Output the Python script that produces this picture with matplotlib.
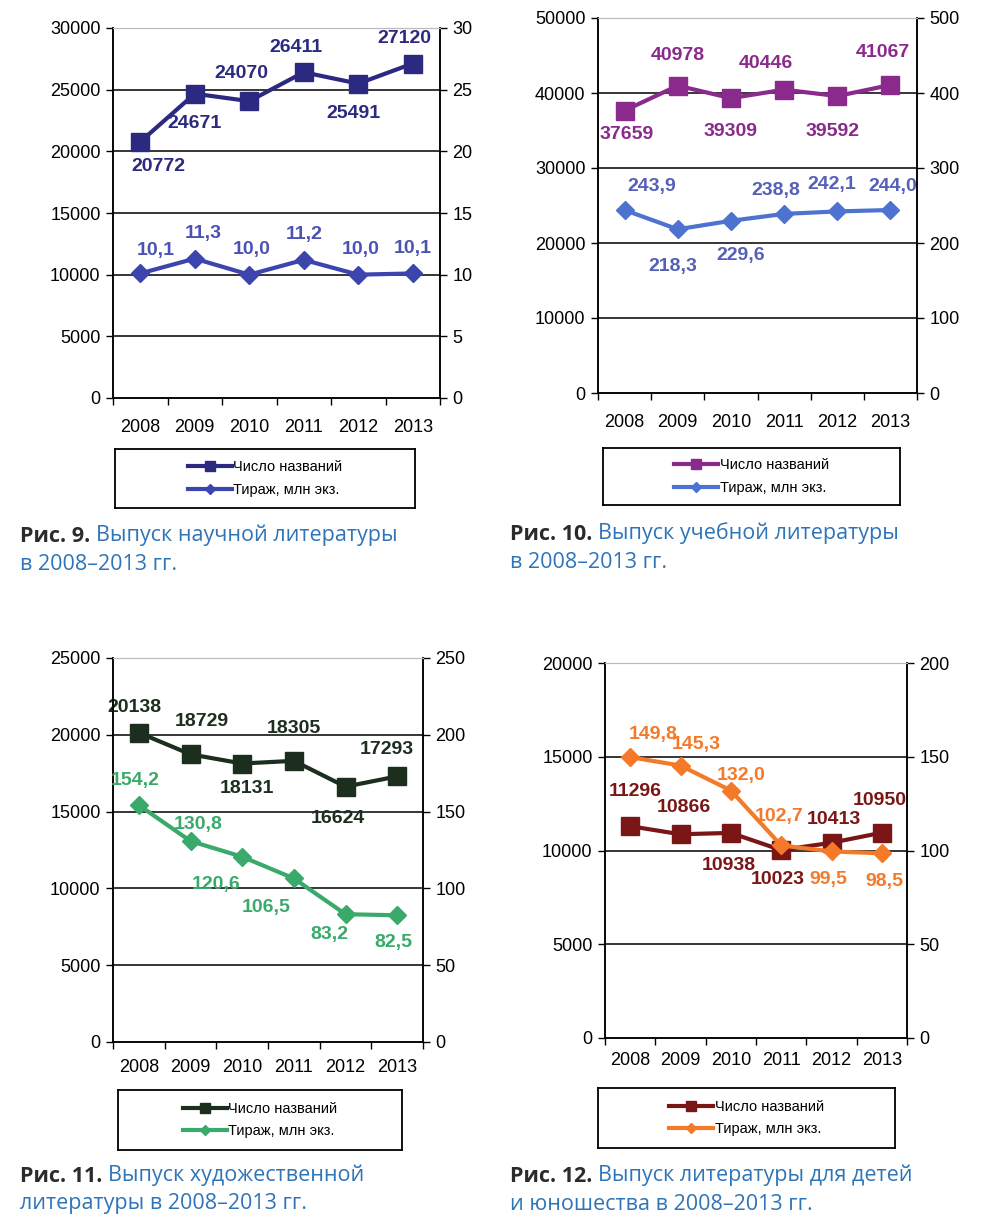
import numpy as np
import matplotlib
matplotlib.use("Agg")
import matplotlib.pyplot as plt

plt.rcParams['font.family'] = ['Liberation Sans', 'DejaVu Sans']

# --- data -------------------------------------------------------------
years = ['2008', '2009', '2010', '2011', '2012', '2013']

sci_titles = [20772, 24671, 24070, 26411, 25491, 27120]
sci_copies = [10.1, 11.3, 10.0, 11.2, 10.0, 10.1]

edu_titles = [37659, 40978, 39309, 40446, 39592, 41067]
edu_copies = [243.9, 218.3, 229.6, 238.8, 242.1, 244.0]

fic_titles = [20138, 18729, 18131, 18305, 16624, 17293]
fic_copies = [154.2, 130.8, 120.6, 106.5, 83.2, 82.5]

kid_titles = [11296, 10866, 10938, 10023, 10413, 10950]
kid_copies = [149.8, 145.3, 132.0, 102.7, 99.5, 98.5]

legend_titles = 'Число названий'
legend_copies = 'Тираж, млн экз.'

captions = [
    ('Рис. 9. ', 'Выпуск научной литературы', 'в 2008–2013 гг.'),
    ('Рис. 10. ', 'Выпуск учебной литературы', 'в 2008–2013 гг.'),
    ('Рис. 11. ', 'Выпуск художественной', 'литературы в 2008–2013 гг.'),
    ('Рис. 12. ', 'Выпуск литературы для детей', 'и юношества в 2008–2013 гг.'),
]

# --- layout / style (pixels on a 1000x1220 canvas) ----------------------
W, H = 1000, 1220
panels = [
    dict(titles=sci_titles, copies=sci_copies, ymax=30000, ystep=5000, rmax=30, rstep=5,
         c1='#2c2a80', c2='#3b45ad', l2='#4a52b4', xpad=15,
         box=(113, 440, 28, 398), leg=(115, 415, 449, 508), cap=(20, 536),
         off1=[(18, -25), (0, -30), (-8, 28), (-8, 25), (-5, -30), (-8, 25)],
         off2=[(16, 23), (9, 25), (2, 25), (0, 25), (2, 25), (0, 25)]),
    dict(titles=edu_titles, copies=edu_copies, ymax=50000, ystep=10000, rmax=500, rstep=100,
         c1='#8a2a8c', c2='#4d72cf', l2='#5660b8', xpad=15,
         box=(598, 917, 18, 393), leg=(603, 900, 448, 505), cap=(510, 534),
         off1=[(2, -24), (0, 30), (0, -33), (-18, 26), (-5, -35), (-8, 32)],
         off2=[(27, 24), (-5, -37), (10, -35), (-8, 23), (-6, 27), (2, 24)]),
    dict(titles=fic_titles, copies=fic_copies, ymax=25000, ystep=5000, rmax=250, rstep=50,
         c1='#1c2e1e', c2='#3aaa6b', l2='#3aaa6b', xpad=12,
         box=(113, 423, 658, 1042), leg=(118, 402, 1090, 1150), cap=(20, 1176),
         off1=[(-4, 25), (11, 33), (5, -25), (0, 32), (-8, -32), (-10, 27)],
         off2=[(-4, 25), (8, 17), (-26, -28), (-28, -29), (-16, -20), (-4, -27)]),
    dict(titles=kid_titles, copies=kid_copies, ymax=20000, ystep=5000, rmax=200, rstep=50,
         c1='#7a1616', c2='#f47a2a', l2='#f47a2a', xpad=10,
         box=(605, 907, 663, 1038), leg=(598, 895, 1088, 1148), cap=(510, 1176),
         off1=[(5, 35), (3, 27), (-2, -33), (-3, -29), (2, 23), (-2, 32)],
         off2=[(23, 23), (16, 21), (10, 15), (-2, 29), (-3, -28), (3, -28)]),
]

fig = plt.figure(figsize=(W / 100, H / 100), dpi=100)
x = np.arange(len(years))
cap_font = ['Open Sans', 'DejaVu Sans']


def fmt_copies(v):
    return f'{v:.1f}'.replace('.', ',')


for p in panels:
    l, r, t, b = p['box']
    ax = fig.add_axes([l / W, 1 - b / H, (r - l) / W, (b - t) / H])
    ax2 = ax.twinx()

    ax.set_xlim(-0.5, len(years) - 0.5)
    ax.set_ylim(0, p['ymax'])
    ax2.set_ylim(0, p['rmax'])
    ax.set_yticks(np.arange(0, p['ymax'] + 1, p['ystep']))
    ax2.set_yticks(np.arange(0, p['rmax'] + 1, p['rstep']))
    ax.set_xticks(x)
    ax.set_xticklabels(years)
    ax.set_xticks(np.arange(-0.5, len(years), 1.0), minor=True)
    ax.tick_params(axis='x', which='major', length=0, labelsize=13, pad=p['xpad'])
    ax.tick_params(axis='x', which='minor', length=5, direction='out', width=1)
    ax.tick_params(axis='y', length=5, width=1, labelsize=13, pad=4)
    ax2.tick_params(axis='y', length=5, width=1, labelsize=13, pad=4)

    for yv in np.arange(p['ystep'], p['ymax'], p['ystep']):
        ax.axhline(yv, color='black', lw=1.1, zorder=1)
    for a in (ax, ax2):
        a.spines['top'].set_color('#bbbbbb')
        a.spines['top'].set_linewidth(0.8)
        for s in ('left', 'right', 'bottom'):
            a.spines[s].set_linewidth(1.1)

    ax.plot(x, p['titles'], color=p['c1'], lw=3, marker='s', ms=13, zorder=3)
    ax2.plot(x, p['copies'], color=p['c2'], lw=3, marker='D', ms=9.5, zorder=3)

    for i, v in enumerate(p['titles']):
        ax.annotate(str(v), (x[i], v), xytext=p['off1'][i], textcoords='offset pixels',
                    ha='center', va='center', fontsize=14, fontweight='bold', color=p['c1'])
    for i, v in enumerate(p['copies']):
        ax2.annotate(fmt_copies(v), (x[i], v), xytext=p['off2'][i], textcoords='offset pixels',
                     ha='center', va='center', fontsize=14, fontweight='bold', color=p['l2'])

    # legend box
    ll, lr, lt, lb = p['leg']
    lax = fig.add_axes([ll / W, 1 - lb / H, (lr - ll) / W, (lb - lt) / H])
    lax.set_xticks([])
    lax.set_yticks([])
    for s in lax.spines.values():
        s.set_linewidth(1.3)
    h1, = lax.plot([], [], color=p['c1'], lw=3, marker='s', ms=7)
    h2, = lax.plot([], [], color=p['c2'], lw=3, marker='D', ms=5)
    lax.legend([h1, h2], [legend_titles, legend_copies], loc='center', frameon=False,
               fontsize=10.5, handlelength=3.0, handletextpad=0.1, labelspacing=0.6,
               borderaxespad=0)

# captions
for p, (bold, first, second) in zip(panels, captions):
    cx, cy = p['cap']
    t1 = fig.text(cx / W, 1 - cy / H, bold, fontsize=15.5, fontweight='bold',
                  color='#2b2b2b', family=cap_font, va='center')
    plt.annotate(first, xy=(1, 0), xycoords=t1, va='bottom', ha='left', fontsize=15.5,
                 color='#2e74b8', family=cap_font, annotation_clip=False)
    fig.text(cx / W, 1 - (cy + 28) / H, second, fontsize=15.5, color='#2e74b8',
             family=cap_font, va='center')

fig.savefig('out.png', dpi=100, facecolor='white')
